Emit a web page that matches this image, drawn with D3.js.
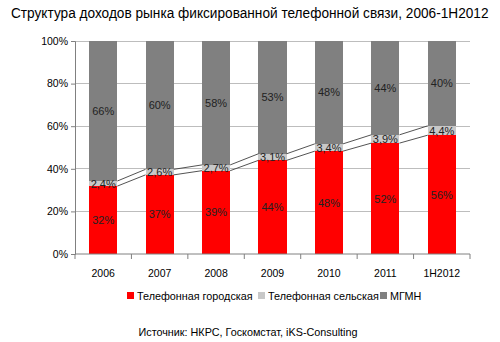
<!DOCTYPE html>
<html><head><meta charset="utf-8">
<script src="https://cdn.jsdelivr.net/npm/d3@7"></script>
<style>body{margin:0;background:#fff}svg{display:block;font-family:"Liberation Sans",Arial,sans-serif}</style>
</head><body>
<script>
const categories = ["2006","2007","2008","2009","2010","2011","1H2012"];
const cityValues = [32,37,39,44,48,52,56];
const ruralValues = [2.4,2.6,2.7,3.1,3.4,3.9,4.4];
const mgmnValues = [66,60,58,53,48,44,40];
const seriesNames = ["Телефонная городская","Телефонная сельская","МГМН"];
const seriesKeys = ["city","rural","mgmn"];
const seriesColors = ["#ff0000","#c8c8c8","#808080"];
const yTicks = [0,0.2,0.4,0.6,0.8,1];
const titleText = "Структура доходов рынка фиксированной телефонной связи, 2006-1H2012";
const sourceText = "Источник: НКРС, Госкомстат, iKS-Consulting";

const W=500,H=342;
const m={left:75,right:30,top:41,bottom:88};
const svg=d3.select("body").append("svg").attr("width",W).attr("height",H);
const table=categories.map((c,i)=>({cat:c,city:cityValues[i],rural:ruralValues[i],mgmn:mgmnValues[i]}));
const stack=d3.stack().keys(seriesKeys).offset(d3.stackOffsetExpand)(table);
const x=d3.scaleBand().domain(categories).range([m.left,W-m.right]).paddingInner(0.5).paddingOuter(0.25);
const xb=d3.scaleBand().domain(categories).range([m.left,W-m.right]);
const y=d3.scaleLinear().domain([0,1]).range([H-m.bottom,m.top]);

// title, horizontally condensed to fit the reference width
const tg=svg.append("g");
const tt=tg.append("text").attr("x",0).attr("y",0)
  .attr("font-size",15.5).attr("fill","#000").text(titleText);
const natural=tt.node().getComputedTextLength();
const sx=Math.min(1,478/natural);
tg.attr("transform",`translate(11,18) scale(${sx},1)`);

// grid
svg.append("g").selectAll("line").data(yTicks.filter(t=>t>0)).join("line")
  .attr("x1",m.left).attr("x2",W-m.right).attr("y1",d=>y(d)).attr("y2",d=>y(d))
  .attr("stroke","#bdbdbd").attr("stroke-width",1).attr("shape-rendering","crispEdges");

// bars
svg.append("g").selectAll("g").data(stack).join("g").attr("fill",(d,i)=>seriesColors[i])
  .selectAll("rect").data(d=>d).join("rect")
  .attr("x",d=>x(d.data.cat)).attr("width",x.bandwidth())
  .attr("y",d=>y(d[1])).attr("height",d=>y(d[0])-y(d[1]))
  .attr("shape-rendering","crispEdges");

// series lines
[0,1].forEach(si=>{
  const s=stack[si];
  for(let i=0;i<s.length-1;i++){
    svg.append("line")
      .attr("x1",x(categories[i])+x.bandwidth()).attr("y1",y(s[i][1]))
      .attr("x2",x(categories[i+1])).attr("y2",y(s[i+1][1]))
      .attr("stroke","#404040").attr("stroke-width",0.9);
  }
});

// labels
const fmt=[v=>Math.round(v)+"%",v=>v.toFixed(1).replace(".",",")+"%",v=>Math.round(v)+"%"];
stack.forEach((s,si)=>{
  svg.append("g").selectAll("text").data(s).join("text")
    .attr("x",d=>x(d.data.cat)+x.bandwidth()/2)
    .attr("y",d=>y((d[0]+d[1])/2)+4)
    .attr("text-anchor","middle").attr("font-size",11).attr("fill","#222")
    .text(d=>fmt[si](d.data[seriesKeys[si]]));
});

// axes
const yAxis=d3.axisLeft(y).tickValues(yTicks).tickFormat(d3.format(".0%")).tickSize(4).tickPadding(3);
const gy=svg.append("g").attr("transform",`translate(${m.left},0)`).call(yAxis);
gy.selectAll("text").attr("font-size",10.5).attr("fill","#000").attr("font-family","Liberation Sans, Arial");
gy.selectAll("line,path").attr("stroke","#808080");

const gx=svg.append("g").attr("transform",`translate(0,${H-m.bottom})`);
gx.append("line").attr("x1",m.left).attr("x2",W-m.right).attr("stroke","#808080");
gx.selectAll("line.t").data(categories.concat([null])).join("line").attr("class","t")
  .attr("x1",(d,i)=>m.left+i*xb.step()).attr("x2",(d,i)=>m.left+i*xb.step())
  .attr("y1",0).attr("y2",5).attr("stroke","#808080");
gx.selectAll("text").data(categories).join("text")
  .attr("x",d=>xb(d)+xb.bandwidth()/2).attr("y",23).attr("text-anchor","middle")
  .attr("font-size",10.5).attr("fill","#000").text(d=>d);

// legend
const lg=svg.append("g");
const legX=[127,258,380];
seriesNames.forEach((n,i)=>{
  lg.append("rect").attr("x",legX[i]).attr("y",292).attr("width",7).attr("height",7).attr("fill",seriesColors[i]);
  lg.append("text").attr("x",legX[i]+10).attr("y",300).attr("font-size",10.8).attr("fill","#000").text(n);
});

svg.append("text").attr("x",248).attr("y",336).attr("text-anchor","middle")
  .attr("font-size",10.8).attr("fill","#000").text(sourceText);
</script>
</body></html>
